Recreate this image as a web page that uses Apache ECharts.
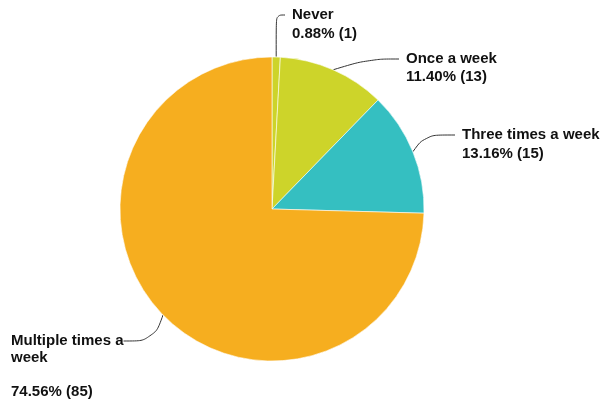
<!DOCTYPE html>
<html><head><meta charset="utf-8">
<script src="https://cdn.jsdelivr.net/npm/echarts@6/dist/echarts.min.js"></script>
<style>html,body{margin:0;padding:0;background:#fff}#c{width:602px;height:403px}</style>
</head><body><div id="c"></div>
<script>
var categories = ["Never", "Once a week", "Three times a week", "Multiple times a week"];
var counts = [1, 13, 15, 85];
var colors = ["#cdd42a", "#cdd42a", "#35bfc1", "#f6ae1f"];
// first label line (joined by the leader line) and the remaining lines
var headTexts = ["Never", "Once a week", "Three times a week", "Multiple times a"];
var tailPrefix = ["", "", "", "week\n\n"];
var headPos = [[285, 15], [399, 59], [455, 135], [11, 341]];
var tailPos = [[292, 34], [406, 77], [462, 154], [11, 375]];
var headPad = [[0, 150, 0, 7], [0, 0, 0, 7], [0, 0, 0, 7], [0, 14, 0, 0]];

var total = counts.reduce(function (a, b) { return a + b; }, 0);
var font = {
  fontFamily: 'Liberation Sans, Arial, sans-serif',
  fontWeight: 'bold',
  fontSize: 15,
  lineHeight: 17,
  color: '#111',
  overflow: 'none'
};
function pieData(withPad) {
  return categories.map(function (n, i) {
    var d = {name: n, value: counts[i], itemStyle: {color: colors[i]}};
    if (withPad) d.label = {padding: headPad[i]};
    return d;
  });
}
var base = {
  type: 'pie',
  center: [272, 209],
  radius: 152,
  startAngle: 90,
  clockwise: true,
  percentPrecision: 2,
  itemStyle: {borderColor: '#fff', borderWidth: 0.6}
};

var chart = echarts.init(document.getElementById('c'), null, {renderer: 'canvas'});
chart.setOption({
  animation: false,
  series: [
    Object.assign({}, base, {
      data: pieData(true),
      label: Object.assign({show: true, position: 'outside', formatter: function (p) {
        return headTexts[p.dataIndex];
      }}, font),
      labelLine: {show: true, smooth: 0.4, length: 12, length2: 30, lineStyle: {color: '#333', width: 1}},
      labelLayout: function (params) {
        var pos = headPos[params.dataIndex];
        return {x: pos[0], y: pos[1], align: 'left', verticalAlign: 'middle'};
      }
    }),
    Object.assign({}, base, {
      silent: true,
      data: pieData(false),
      label: Object.assign({show: true, position: 'outside', formatter: function (p) {
        return tailPrefix[p.dataIndex] + (p.value / total * 100).toFixed(2) + '% (' + p.value + ')';
      }}, font),
      labelLine: {show: false},
      labelLayout: function (params) {
        var pos = tailPos[params.dataIndex];
        return {x: pos[0], y: pos[1], align: 'left', verticalAlign: 'middle'};
      }
    })
  ]
});
</script></body></html>
